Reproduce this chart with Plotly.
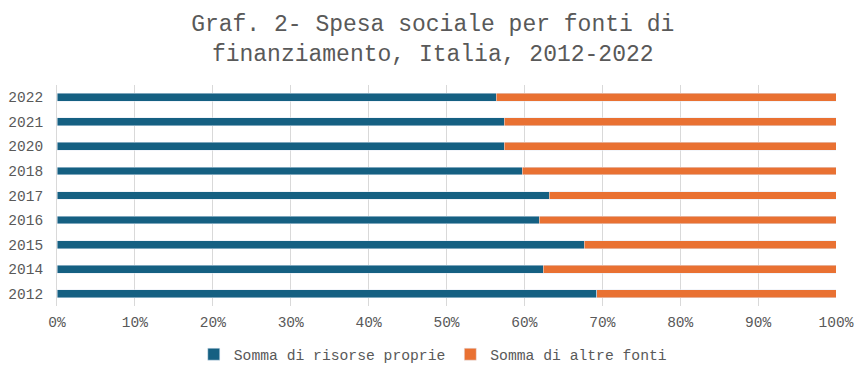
import plotly.graph_objects as go

anni = ["2012", "2014", "2015", "2016", "2017", "2018", "2020", "2021", "2022"]
risorse_proprie = [69.3, 62.4, 67.7, 61.9, 63.2, 59.7, 57.4, 57.4, 56.4]
altre_fonti = [30.7, 37.6, 32.3, 38.1, 36.8, 40.3, 42.6, 42.6, 43.6]

FONT = "Liberation Mono, Courier New, monospace"
GREY = "#595959"

fig = go.Figure()
fig.add_trace(go.Bar(y=anni, x=risorse_proprie, orientation="h",
                     name="Somma di risorse proprie", marker_color="#156082"))
fig.add_trace(go.Bar(y=anni, x=altre_fonti, orientation="h",
                     name="Somma di altre fonti", marker_color="#E97132"))

fig.update_layout(
    width=865, height=380,
    barmode="stack", bargap=0.68,
    paper_bgcolor="white", plot_bgcolor="white",
    margin=dict(l=49, r=37, t=77, b=82, autoexpand=False),
    font=dict(family=FONT, color=GREY, size=14.5),
    title=dict(text="Graf. 2- Spesa sociale per fonti di<br>finanziamento, Italia, 2012-2022",
               x=0.491, xref="container", xanchor="center",
               y=0.939, yref="container", yanchor="top",
               font=dict(family=FONT, size=23, color=GREY)),
    xaxis=dict(range=[0, 100], dtick=10, ticksuffix="%", showgrid=True,
               gridcolor="#D9D9D9", gridwidth=1, zeroline=False, showline=False,
               ticks="outside", ticklen=3, tickcolor="rgba(0,0,0,0)",
               automargin=False,
               tickfont=dict(family=FONT, size=14.5, color=GREY)),
    yaxis=dict(type="category", categoryorder="array", categoryarray=anni,
               showgrid=False, showline=True, linecolor="#D9D9D9", linewidth=1,
               ticks="outside", ticklen=10, tickcolor="rgba(0,0,0,0)",
               automargin=False,
               tickfont=dict(family=FONT, size=14.5, color=GREY)),
    legend=dict(orientation="h", x=0.483, xanchor="center", y=-0.22, yanchor="middle",
                font=dict(family=FONT, size=14.7, color=GREY), itemwidth=30,
                traceorder="normal"),
    showlegend=True,
)

fig.write_html("out.html")
